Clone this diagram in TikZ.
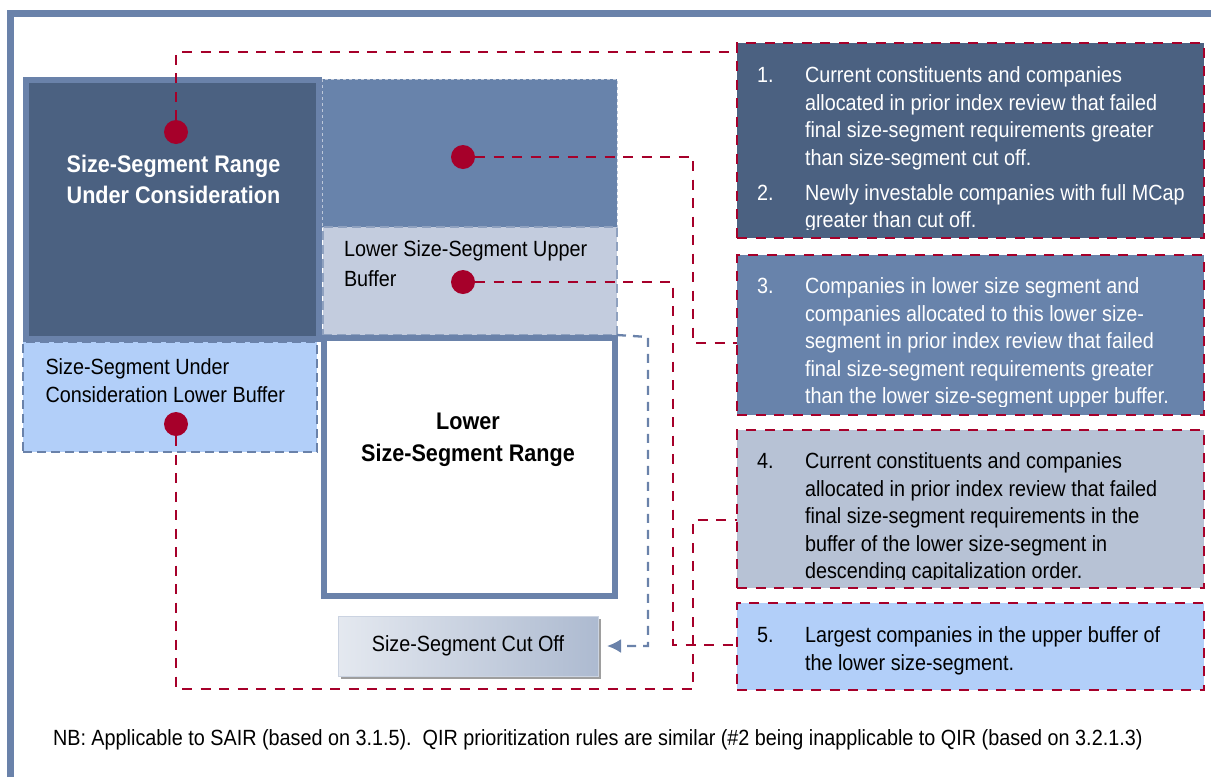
\documentclass[tikz,border=0pt]{standalone}
\usepackage{fontspec}
\setmainfont{Liberation Sans}[FakeStretch=0.9]
\usetikzlibrary{arrows.meta,shadows}
\definecolor{framebl}{HTML}{6A82AA}
\definecolor{darkbl}{HTML}{4B6181}
\definecolor{midbl}{HTML}{6883AB}
\definecolor{greybl}{HTML}{C3CCDE}
\definecolor{slatebl}{HTML}{B7C2D5}
\definecolor{lightbl}{HTML}{B2CFF9}
\definecolor{redln}{HTML}{A6002A}
\newcommand\fsz[2]{\fontsize{#1}{#2}\selectfont}
\begin{document}
\begin{tikzpicture}[x=1pt,y=-1pt,
	every node/.style={inner sep=0pt,outer sep=0pt},
	solidbox/.style={draw=framebl,line width=6pt},
	bufbox/.style={draw=framebl,dashed,line width=1.5pt,dash pattern=on 9pt off 5pt},
	notebox/.style={draw=redln,line width=2.8pt,dash pattern=on 10pt off 8.5pt,minimum width=467pt},
	dot/.style={circle,fill=redln,minimum size=24pt},
	link/.style={draw=redln,line width=2.8pt,dash pattern=on 10pt off 8.5pt},
	cutlink/.style={draw=framebl,line width=2.3pt,dash pattern=on 9pt off 7pt,
		-{Latex[length=14pt,width=14pt]},shorten >=9pt},
	txt/.style={anchor=north west,align=left,font=\fsz{22}{27.4}},
	boldtxt/.style={anchor=north,align=center,font=\bfseries\fsz{24}{31}}]
\useasboundingbox (0,0) rectangle (1211,777);
% frame
\draw[framebl,line width=6.5pt] (10.5,777) -- (10.5,13.5) -- (1211,13.5);

% left part: size segments
\node[solidbox,fill=darkbl,minimum width=293.5pt,minimum height=259.5pt] (range) at (172.25,209.25) {};
\node[fill=midbl,draw=framebl!45,dashed,line width=1pt,minimum width=295pt,minimum height=148pt] (upper) at (469.5,153) {};
\node[bufbox,fill=greybl,draw=framebl!75,minimum width=294pt,minimum height=108pt] (upbuf) at (470,281) {};
\node[bufbox,fill=lightbl,minimum width=294pt,minimum height=110pt] (lowbuf) at (170,397) {};
\node[solidbox,fill=white,minimum width=291pt,minimum height=258.5pt] (lowrange) at (469,466.75) {};
\node[draw=framebl!35,left color=framebl!18,right color=framebl!55,
	drop shadow={shadow xshift=3pt,shadow yshift=-3pt,fill=black!38,opacity=1},
	minimum width=260pt,minimum height=60pt,font=\fsz{22}{27}] (cutoff) at (468,646) {Size-Segment Cut Off};

\node[boldtxt,text=white] (rangetxt) at (173.5,155.5) {Size-Segment Range\\Under Consideration};
\node[boldtxt,font=\bfseries\fsz{24}{32}] (lowtxt) at (468,412.5) {Lower\\Size-Segment Range};
\node[txt,font=\fsz{22}{30}] (upbuftxt) at (344,241) {Lower Size-Segment Upper\\Buffer};
\node[txt,font=\fsz{22}{28}] (lowbuftxt) at (45.5,359) {Size-Segment Under\\Consideration Lower Buffer};

% right part: priority notes
\node[notebox,fill=darkbl,minimum height=195pt] (box1) at (970.5,140.5) {};
\node[notebox,fill=midbl,minimum height=160pt] (box2) at (970.5,335) {};
\node[notebox,fill=slatebl,minimum height=158pt] (box3) at (970.5,509) {};
\node[notebox,fill=lightbl,minimum height=87pt] (box4) at (970.5,646.5) {};

\begin{scope}
\clip (box1.north west) rectangle ([yshift=9pt]box1.south east);
\node[txt,text=white] (n1) at (757,67) {1.};
\node[txt,text=white] (t1) at (805,67) {Current constituents and companies\\allocated in prior index review that failed\\final size-segment requirements greater\\than size-segment cut off.};
\node[txt,text=white] (n2) at (757,185) {2.};
\node[txt,text=white,font=\fsz{22}{26.5}] (t2) at (805,185) {Newly investable companies with full MCap\\greater than cut off.};
\end{scope}
\begin{scope}
\clip (box2.north west) rectangle ([yshift=9pt]box2.south east);
\node[txt,text=white] (n3) at (757,278) {3.};
\node[txt,text=white,font=\fsz{22}{27.5}] (t3) at (805,278) {Companies in lower size segment and\\companies allocated to this lower size-\\segment in prior index review that failed\\final size-segment requirements greater\\than the lower size-segment upper buffer.};
\end{scope}
\begin{scope}
\clip (box3.north west) rectangle ([yshift=9pt]box3.south east);
\node[txt] (n4) at (757,453) {4.};
\node[txt] (t4) at (805,453) {Current constituents and companies\\allocated in prior index review that failed\\final size-segment requirements in the\\buffer of the lower size-segment in\\descending capitalization order.};
\end{scope}
\node[txt] (n5) at (757,627) {5.};
\node[txt,font=\fsz{22}{28}] (t5) at (805,627) {Largest companies in the upper buffer of\\the lower size-segment.};

% markers and links
\node[dot] (d1) at (176,132) {};
\node[dot] (d2) at (463,157) {};
\node[dot] (d3) at (463,282) {};
\node[dot] (d4) at (176,424) {};
\coordinate (k1) at (176,52);
\coordinate (k2) at (693,343);
\coordinate (k3) at (673,645);
\coordinate (k4) at (693,689);
\coordinate (k5) at (693,520);
\coordinate (k6) at (648,337);
\coordinate (k7) at (648,646);
\draw[link] (d1) -- (k1) -- (k1 -| box1.west);
\draw[link] (d2) -| (k2) -- (k2 -| box2.west);
\draw[link] (d3) -| (k3) -- (k3 -| box4.west);
\draw[link] (d4) |- (k4) -- (k5) -- (k5 -| box3.west);
\draw[cutlink] (upbuf.south east) -- (k6) -- (k7) -- (cutoff.east);

\node[anchor=west,font=\fsz{22}{26}] (nb) at (53,740) {NB: Applicable to SAIR (based on 3.1.5).\ \ QIR prioritization rules are similar (\#2 being inapplicable to QIR (based on 3.2.1.3)};
\end{tikzpicture}
\end{document}
